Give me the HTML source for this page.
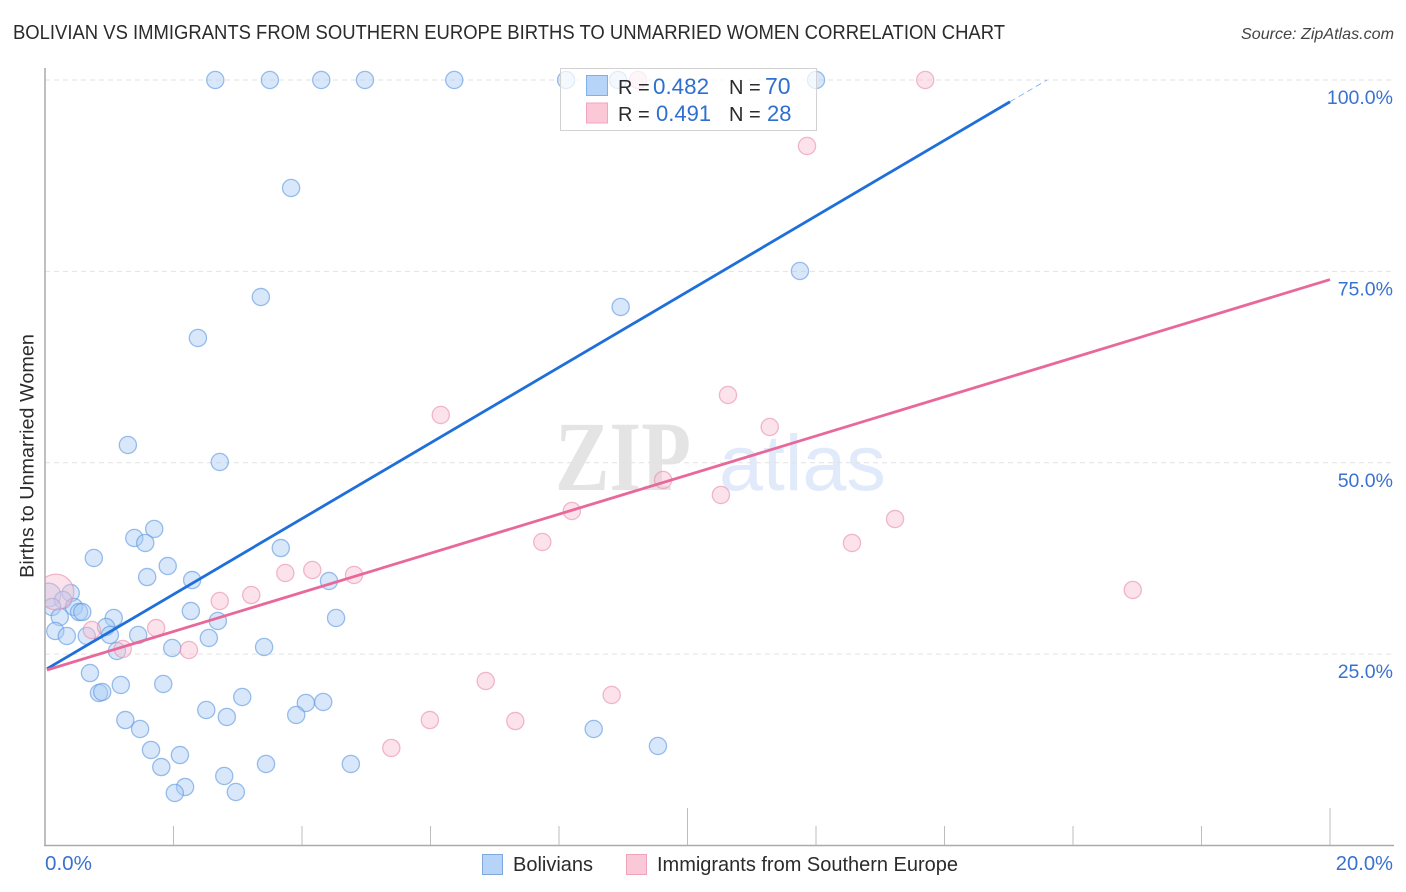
<!DOCTYPE html>
<html lang="en">
<head>
<meta charset="utf-8">
<title>Bolivian vs Immigrants from Southern Europe Births to Unmarried Women Correlation Chart</title>
<style>
html,body{margin:0;padding:0;background:#fff;}
svg{display:block;}
text{font-family:"Liberation Sans",sans-serif;}
</style>
</head>
<body>
<svg id="chart" xmlns="http://www.w3.org/2000/svg" width="1406" height="892" viewBox="0 0 1406 892">
  <rect x="0" y="0" width="1406" height="892" fill="#ffffff"/>
  <defs>
    <clipPath id="plot-clip"><rect x="45" y="60" width="1349" height="786"/></clipPath>
  </defs>
  <text x="13" y="39" font-size="20" fill="#2b2b2b" textLength="992" lengthAdjust="spacingAndGlyphs">BOLIVIAN VS IMMIGRANTS FROM SOUTHERN EUROPE BIRTHS TO UNMARRIED WOMEN CORRELATION CHART</text>
  <text x="1394" y="39" font-size="16.1" font-style="italic" fill="#444" text-anchor="end">Source: ZipAtlas.com</text>

  <g>
    <text x="555" y="490" font-size="100" font-weight="bold" fill="#e4e4e4" style="font-family:'Liberation Serif',serif" textLength="136" lengthAdjust="spacingAndGlyphs">ZIP</text>
    <text x="719" y="490" font-size="79" fill="#e0eafa">atlas</text>
  </g>

  <g id="grid"></g>
  <g id="points-blue" clip-path="url(#plot-clip)"></g>
  <g id="points-pink" clip-path="url(#plot-clip)"></g>
  <g id="trends"></g>
  <g id="axes"></g>

  <text transform="translate(33.5,456) rotate(-90)" font-size="19.8" fill="#2b2b2b" text-anchor="middle">Births to Unmarried Women</text>

  <g>
    <rect x="560.5" y="68.5" width="256" height="62" fill="#ffffff" fill-opacity="0.72" stroke="#d2d2d2" stroke-width="1"/>
    <rect x="586.5" y="75.5" width="21" height="20" fill="#b6d4f8" stroke="#7fb0ea" stroke-width="1"/>
    <rect x="586.5" y="103" width="21" height="20" fill="#fbc8d8" stroke="#f2a5bf" stroke-width="1"/>
    <text x="618" y="94" font-size="20" fill="#2b2b2b">R =</text>
    <text x="653" y="94" font-size="22.4" fill="#2f6fd0">0.482</text>
    <text x="729" y="94" font-size="20" fill="#2b2b2b">N =</text>
    <text x="765" y="94" font-size="23" fill="#2f6fd0">70</text>
    <text x="618" y="121" font-size="20" fill="#2b2b2b">R =</text>
    <text x="656" y="121" font-size="22" fill="#2f6fd0">0.491</text>
    <text x="729" y="121" font-size="20" fill="#2b2b2b">N =</text>
    <text x="767" y="121" font-size="22" fill="#2f6fd0">28</text>
  </g>

  <g>
    <rect x="482.5" y="854.5" width="20" height="20" fill="#b6d4f8" stroke="#7fa8dc" stroke-width="1"/>
    <text x="513" y="871" font-size="20" fill="#2b2b2b">Bolivians</text>
    <rect x="626.5" y="854.5" width="20" height="20" fill="#fbc8d8" stroke="#f0a3bd" stroke-width="1"/>
    <text x="657" y="871" font-size="20" fill="#2b2b2b" textLength="301" lengthAdjust="spacingAndGlyphs">Immigrants from Southern Europe</text>
  </g>
</svg>
<script>
const bolivianX = [2.65,3.50,4.30,4.98,6.37,8.11,8.92,12.00,3.83,11.75,3.36,8.96,2.38,1.29,2.72,1.70,1.39,1.56,3.67,0.76,1.91,1.59,2.29,4.42,0.40,0.06,0.28,0.45,0.53,0.58,0.11,0.23,1.07,2.27,4.53,2.69,0.95,0.16,0.34,0.65,1.01,1.45,2.55,1.98,1.12,3.41,0.70,1.18,0.84,0.89,1.84,3.07,2.51,4.06,4.33,3.91,2.83,1.25,1.48,8.54,9.54,1.65,2.10,1.81,3.44,4.76,2.79,2.18,2.02,2.97];
const bolivianY = [100,100,100,100,100,100,100,100,85.89,75.05,71.65,70.35,66.30,52.32,50.10,41.35,40.17,39.52,38.86,37.56,36.51,35.07,34.68,34.55,32.98,32.72,32.07,31.16,30.50,30.50,31.16,29.85,29.72,30.63,29.72,29.33,28.54,28.02,27.37,27.37,27.50,27.50,27.11,25.80,25.41,25.93,22.53,20.97,19.92,20.05,21.10,19.40,17.70,18.62,18.75,17.05,16.79,16.39,15.22,15.22,13.00,12.48,11.82,10.25,10.65,10.65,9.08,7.64,6.86,6.99];
const immigrantX = [13.70,9.23,11.86,10.63,6.16,11.28,9.62,10.52,8.20,13.23,7.74,12.56,16.93,4.16,3.74,4.81,3.21,2.72,1.73,0.73,1.21,2.24,6.86,8.82,5.99,7.32,5.39,0.17];
const immigrantY = [100,100,91.38,58.85,56.24,54.67,47.75,45.79,43.70,42.65,39.65,39.52,33.38,35.99,35.60,35.34,32.72,31.94,28.41,28.15,25.67,25.54,21.49,19.66,16.39,16.26,12.74,33.12];
const bolivianWeightByIndex = {25: 1.9};
const immigrantWeightByIndex = {27: 4.3};
const bolivianTrend = {intercept: 22.93, slope: 4.942, solidEnd: 15.02};
const immigrantTrend = {intercept: 22.85, slope: 2.554, solidEnd: 20};
const yTickValues = [100, 75, 50, 25];
const yTickLabels = ['100.0%', '75.0%', '50.0%', '25.0%'];
const xTickValues = [2, 4, 6, 8, 10, 12, 14, 16, 18, 20];
const xMajorTicks = [10, 20];
const xEndLabels = ['0.0%', '20.0%'];

const NS = 'http://www.w3.org/2000/svg';
function xScale(v) { return 45 + v * 64.25; }
function yScale(v) { return 845.5 - v * 7.655; }
function make(tag, attrs, parent) {
  const el = document.createElementNS(NS, tag);
  for (const k in attrs) el.setAttribute(k, attrs[k]);
  parent.appendChild(el);
  return el;
}

const grid = document.getElementById('grid');
const axes = document.getElementById('axes');
const trends = document.getElementById('trends');
const pointsBlue = document.getElementById('points-blue');
const pointsPink = document.getElementById('points-pink');

yTickValues.forEach(function (v, i) {
  const line = make('line', {x1: 45, x2: 1394, y1: yScale(v), y2: yScale(v), stroke: '#e2e2e2', 'stroke-width': 1, 'stroke-dasharray': '5 4'}, grid);
  
  
  const label = make('text', {x: 1393, y: yScale(v) + 24, 'font-size': 19.5, fill: '#3a72d0', 'text-anchor': 'end'}, axes);
  label.textContent = yTickLabels[i];
  
  
});

const yAxis = make('line', {x1: 45, x2: 45, y1: 68, y2: 846, stroke: '#aaaaaa', 'stroke-width': 1.5}, axes);


const xAxis = make('line', {x1: 44, x2: 1394, y1: 845.5, y2: 845.5, stroke: '#aaaaaa', 'stroke-width': 1.5}, axes);



xTickValues.forEach(function (v) {
  const top = xMajorTicks.indexOf(v) >= 0 ? 808 : 826;
  const tick = make('line', {x1: xScale(v), x2: xScale(v), y1: top, y2: 845, stroke: '#bdbdbd', 'stroke-width': 1}, axes);
  
  
});

const xLabelStart = make('text', {x: 45, y: 870, 'font-size': 20.6, fill: '#3a72d0'}, axes);
xLabelStart.textContent = xEndLabels[0];


const xLabelEnd = make('text', {x: 1393, y: 870, 'font-size': 20.2, fill: '#3a72d0', 'text-anchor': 'end'}, axes);
xLabelEnd.textContent = xEndLabels[1];



bolivianX.forEach(function (v, i) {
  const w = bolivianWeightByIndex[i] || 1;
  const c = make('circle', {cx: xScale(v), cy: yScale(bolivianY[i]), r: 8.6 * Math.sqrt(w), fill: '#a9cbf5', 'fill-opacity': 0.45, stroke: '#5f97e0', 'stroke-opacity': 0.62, 'stroke-width': 1.3}, pointsBlue);
  
  
});

immigrantX.forEach(function (v, i) {
  const w = immigrantWeightByIndex[i] || 1;
  const c = make('circle', {cx: xScale(v), cy: yScale(immigrantY[i]), r: 8.6 * Math.sqrt(w), fill: '#f9c0d2', 'fill-opacity': 0.45, stroke: '#e98fad', 'stroke-opacity': 0.62, 'stroke-width': 1.3}, pointsPink);
  
  
});

function trendY(t, x) { return t.intercept + t.slope * x; }

const blueLine = make('line', {x1: xScale(0.03), y1: yScale(trendY(bolivianTrend, 0.03)), x2: xScale(bolivianTrend.solidEnd), y2: yScale(trendY(bolivianTrend, bolivianTrend.solidEnd)), stroke: '#1f6fdb', 'stroke-width': 2.8}, trends);


const blueEndX = (100 - bolivianTrend.intercept) / bolivianTrend.slope;
const blueDash = make('line', {x1: xScale(bolivianTrend.solidEnd), y1: yScale(trendY(bolivianTrend, bolivianTrend.solidEnd)), x2: xScale(blueEndX), y2: yScale(100), stroke: '#1f6fdb', 'stroke-width': 0.8, 'stroke-dasharray': '6 4', 'stroke-opacity': 0.6}, trends);


const pinkLine = make('line', {x1: xScale(0.03), y1: yScale(trendY(immigrantTrend, 0.03)), x2: xScale(immigrantTrend.solidEnd), y2: yScale(trendY(immigrantTrend, immigrantTrend.solidEnd)), stroke: '#e9689a', 'stroke-width': 2.8}, trends);


</script>
</body>
</html>
